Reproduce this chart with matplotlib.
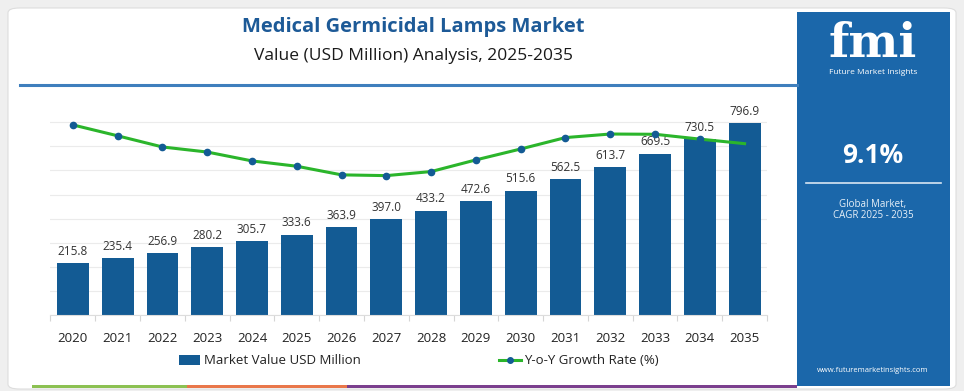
import matplotlib.pyplot as plt
from matplotlib.patches import FancyBboxPatch, Rectangle, Patch
from matplotlib.lines import Line2D

plt.rcParams["font.family"] = ["Open Sans", "DejaVu Sans"]

years = ["2020", "2021", "2022", "2023", "2024", "2025", "2026", "2027",
         "2028", "2029", "2030", "2031", "2032", "2033", "2034", "2035"]
market_value = [215.8, 235.4, 256.9, 280.2, 305.7, 333.6, 363.9, 397.0,
                433.2, 472.6, 515.6, 562.5, 613.7, 669.5, 730.5, 796.9]
yoy_growth = [10.00, 9.57, 9.13, 8.93, 8.58, 8.37, 8.03, 8.00,
              8.16, 8.62, 9.05, 9.50, 9.64, 9.63, 9.44, 9.26]

title = "Medical Germicidal Lamps Market"
subtitle = "Value (USD Million) Analysis, 2025-2035"
cagr = "9.1%"

W, H = 964, 391
BAR = "#135b94"
GREEN = "#2bb52b"
PANEL = "#1b67aa"


def fx(px):
    return px / W


def fy(py):
    return 1 - py / H


fig = plt.figure(figsize=(W / 100, H / 100), dpi=100)
fig.patch.set_facecolor("#efefef")

# white card
fig.patches.append(FancyBboxPatch((fx(8), fy(389)), fx(948), (381) / H,
                                  boxstyle="round,pad=0,rounding_size=0.012",
                                  transform=fig.transFigure, facecolor="white",
                                  edgecolor="#dddddd", linewidth=0.8, zorder=-3))

# blue side panel
fig.patches.append(Rectangle((fx(797), fy(386)), fx(153), 374 / H,
                             transform=fig.transFigure, facecolor=PANEL,
                             edgecolor="none", zorder=-2))

# header rule
fig.add_artist(Line2D([fx(20), fx(797)], [fy(85), fy(85)], transform=fig.transFigure,
                      color="#3f7fbd", linewidth=2.2))

# bottom colour strip
for x0, x1, c in [(32, 187, "#8cc152"), (187, 347, "#e9774a"), (347, 797, "#7b3f8e")]:
    fig.patches.append(Rectangle((fx(x0), fy(388)), fx(x1 - x0), 3.5 / H,
                                 transform=fig.transFigure, facecolor=c,
                                 edgecolor="none", zorder=-1))

fig.text(fx(413), fy(27), title, ha="center", va="center", fontsize=14.5,
         fontweight="bold", color="#1d5a97")
fig.text(fx(413), fy(56), subtitle, ha="center", va="center", fontsize=12.5,
         color="#1a1a1a")

# panel texts
fig.text(fx(873), fy(44), "fmi", ha="center", va="center", fontsize=34,
         fontweight="bold", family="DejaVu Serif", color="white")
fig.text(fx(873), fy(73), "Future Market Insights", ha="center", va="center",
         fontsize=6, color="white")
fig.text(fx(873), fy(155), cagr, ha="center", va="center", fontsize=19,
         fontweight="bold", color="white")
fig.add_artist(Line2D([fx(806), fx(941)], [fy(183), fy(183)], transform=fig.transFigure,
                      color="#d8e6f3", linewidth=1.2))
fig.text(fx(873), fy(204), "Global Market,", ha="center", va="center",
         fontsize=7, color="#e8f0f8")
fig.text(fx(873), fy(216), "CAGR 2025 - 2035", ha="center", va="center",
         fontsize=7, color="#e8f0f8")
fig.text(fx(873), fy(371), "www.futuremarketinsights.com", ha="center", va="center",
         fontsize=5.5, color="white")

# main chart
ax = fig.add_axes([fx(50), fy(315), fx(717), 200 / H])
ax.patch.set_alpha(0)
x = list(range(len(years)))
bars = ax.bar(x, market_value, width=0.71, color=BAR, zorder=2)
for xi, v in zip(x, market_value):
    ax.text(xi, v + 22, f"{v:.1f}", ha="center", va="bottom", fontsize=8.5,
            color="#333333", zorder=3)

ax2 = ax.twinx()
ax2.plot(x, yoy_growth, color=GREEN, linewidth=2.2, marker="o", markersize=4.5,
         markerfacecolor=BAR, markeredgecolor=BAR, markevery=list(range(len(x) - 1)),
         zorder=4)
ax2.set_ylim(2.505, 10.39)
ax2.axis("off")

ax.set_xlim(-0.51, 15.43)
ax.set_ylim(0, 830)
ax.set_yticks(range(0, 801, 100))
ax.yaxis.grid(True, color="#ebebeb", linewidth=0.8, zorder=0)
ax.set_axisbelow(True)
ax.tick_params(axis="y", which="both", left=False, right=False,
               labelleft=False, labelright=False)
ax.set_xticks(x)
ax.set_xticklabels(years, fontsize=9.5, color="#222222")
ax.tick_params(axis="x", length=0, pad=12)
ax.set_xticks([i + 0.5 for i in range(-1, len(years))], minor=True)
ax.tick_params(axis="x", which="minor", length=4, color="#d5d5d5", width=0.8)
for s in ["top", "right", "left"]:
    ax.spines[s].set_visible(False)
ax.spines["bottom"].set_color("#dddddd")

handles = [Patch(facecolor=BAR, edgecolor="none"),
           Line2D([], [], color=GREEN, linewidth=2.2, marker="o", markersize=4,
                  markerfacecolor=BAR, markeredgecolor=BAR)]
fig.legend(handles, ["Market Value USD Million", "Y-o-Y Growth Rate (%)"],
           loc="center", bbox_to_anchor=(fx(419), fy(361)), ncol=2, frameon=False,
           fontsize=9.5, columnspacing=10.5, handlelength=1.6, handletextpad=0.3,
           labelcolor="#222222")

fig.savefig("out.png", dpi=100, facecolor=fig.get_facecolor())
